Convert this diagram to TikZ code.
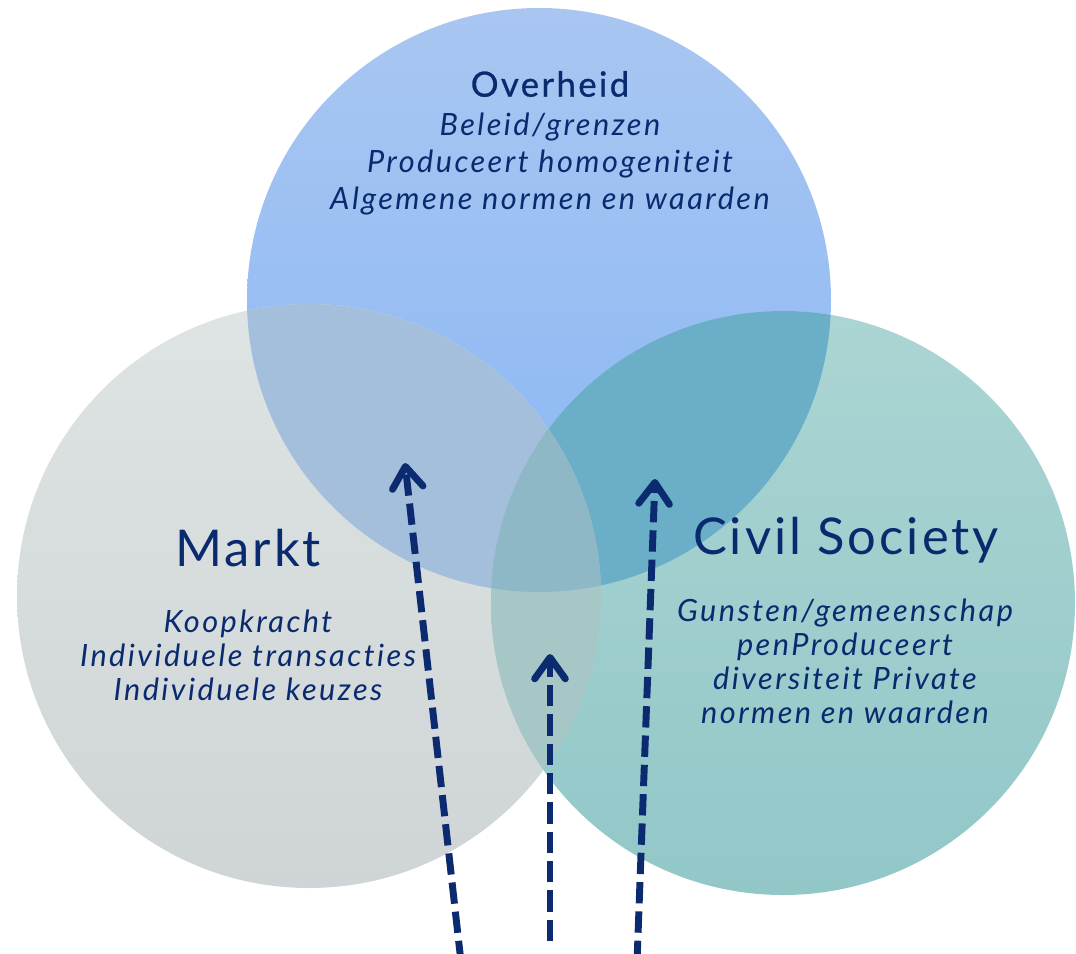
\documentclass[tikz,border=0pt]{standalone}
\usepackage{fontspec}
\setmainfont{Lato}
\newfontfamily\bodyfont{Lato}[LetterSpace=8, Ligatures=NoCommon]
\newfontfamily\titlefont{Lato}[LetterSpace=6]
\newfontfamily\ovfont{Lato}[LetterSpace=7, FakeBold=0.8]
\usetikzlibrary{arrows.meta}
\definecolor{navy}{HTML}{0B2A6F}
\definecolor{txt}{HTML}{0A2A70}
\definecolor{topA}{HTML}{A9C6F1}
\definecolor{topB}{HTML}{88B7F5}
\definecolor{leftA}{HTML}{DEE4E3}
\definecolor{leftB}{HTML}{CFD5D6}
\definecolor{rightA}{HTML}{ABD5D3}
\definecolor{rightB}{HTML}{92C7C8}
\definecolor{lensTL}{HTML}{A3BFDC}
\definecolor{lensTR}{HTML}{6AAEC8}
\definecolor{lensLR}{HTML}{A7C7C7}
\definecolor{lensC}{HTML}{8FB8C6}
\tikzset{
  flow/.style={draw=navy, line width=5.2pt, dash pattern=on 16pt off 6pt,
    -{Straight Barb[length=16pt,width=23pt,round]}},
  ttl/.style={text=txt, align=center, inner sep=0pt},
  bodytxt/.style={text=txt, align=center, inner sep=0pt},
}
\begin{document}
\begin{tikzpicture}[x=0.75pt,y=-0.75pt]
\useasboundingbox (0,0) rectangle (1076,954);
\coordinate (cT) at (539,300);
\coordinate (cL) at (309,596);
\coordinate (cR) at (783,603);
% circles
\path[top color=topA, bottom color=topB] (cT) circle[radius=292];
\path[top color=leftA, bottom color=leftB] (cL) circle[radius=292];
\path[top color=rightA, bottom color=rightB] (cR) circle[radius=292];
% lenses
\begin{scope}
  \clip (cT) circle[radius=292];
  \fill[lensTL] (cL) circle[radius=292];
  \fill[lensTR] (cR) circle[radius=292];
\end{scope}
\begin{scope}
  \clip (cL) circle[radius=292];
  \fill[lensLR] (cR) circle[radius=292];
\end{scope}
\begin{scope}
  \clip (cT) circle[radius=292];
  \clip (cL) circle[radius=292];
  \fill[lensC] (cR) circle[radius=292];
\end{scope}
% texts
\node[ttl, font=\ovfont\fontsize{26}{30}\selectfont] (ovT) at (550,84) {Overheid};
\node[bodytxt, font=\bodyfont\itshape\fontsize{23}{28}\selectfont] (ovB) at (550,164) {Beleid/grenzen\\Produceert homogeniteit\\Algemene normen en waarden};
\node[ttl, font=\titlefont\fontsize{38}{44}\selectfont] (mkT) at (248,548) {Markt};
\node[bodytxt, font=\bodyfont\itshape\fontsize{23}{25.5}\selectfont] (mkB) at (248,655) {Koopkracht\\Individuele transacties\\Individuele keuzes};
\node[ttl, font=\titlefont\fontsize{38}{44}\selectfont] (csT) at (846,540) {Civil Society};
\node[bodytxt, font=\bodyfont\itshape\fontsize{23}{25.5}\selectfont] (csB) at (845,661) {Gunsten/gemeenschap\\penProduceert\\diversiteit Private\\normen en waarden};
% arrows
\coordinate (a1s) at (461,962);
\coordinate (a1e) at (405,463);
\coordinate (a2s) at (550,941);
\coordinate (a2e) at (550,654);
\coordinate (a3s) at (637,962);
\coordinate (a3e) at (655,479);
\draw[flow] (a1s) -- (a1e);
\draw[flow] (a2s) -- (a2e);
\draw[flow] (a3s) -- (a3e);
\end{tikzpicture}
\end{document}
